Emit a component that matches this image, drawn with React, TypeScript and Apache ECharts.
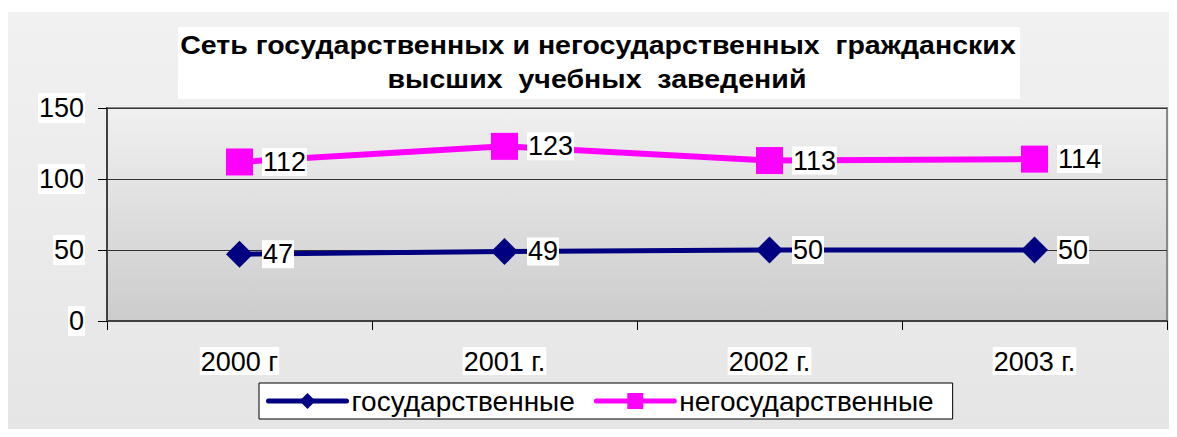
import React, { useEffect, useRef } from "react";
import * as echarts from "echarts";

const categories = ["2000 г", "2001 г.", "2002 г.", "2003 г."];
const stateValues = [47, 49, 50, 50];
const nonStateValues = [112, 123, 113, 114];
const yTicks = { min: 0, max: 150, interval: 50 };
const seriesNames = ["государственные", "негосударственные"];
const titleLines = [
  "Сеть государственных и негосударственных  гражданских",
  "высших  учебных  заведений",
];

const FONT = "Arial, 'Liberation Sans', sans-serif";

function measure(text: string, font: string): number {
  const c = document.createElement("canvas");
  const ctx = c.getContext("2d");
  if (!ctx) return 0;
  ctx.font = font;
  return ctx.measureText(text).width;
}

export default function App() {
  const ref = useRef<HTMLDivElement>(null);
  useEffect(() => {
    if (!ref.current) return;
    const chart = echarts.init(ref.current, null, { renderer: "svg" });
    const titleFont = "bold 25px Arial, 'Liberation Sans', sans-serif";
    const w1 = measure(titleLines[0], titleFont) || 730;
    const sx = 836 / w1;
    const labelCommon = {
      show: true,
      position: "right" as const,
      distance: 9,
      color: "#000",
      fontSize: 27,
      fontFamily: FONT,
      backgroundColor: "#fff",
      padding: [1, 1, 0, 1],
    };
    chart.setOption({
      animation: false,
      backgroundColor: "#fff",
      graphic: [
        {
          type: "rect",
          z: -10,
          shape: { x: 7, y: 12, width: 1170, height: 425 },
          style: {
            fill: new echarts.graphic.LinearGradient(0, 0, 0, 1, [
              { offset: 0, color: "#f1f1f1" },
              { offset: 1, color: "#e5e5e5" },
            ]),
          },
          silent: true,
        },
        {
          type: "rect",
          z: -5,
          shape: { x: 178, y: 27, width: 842, height: 72 },
          style: { fill: "#fff" },
          silent: true,
        },
        {
          type: "text",
          x: 598,
          y: 46,
          scaleX: sx,
          style: {
            text: titleLines[0],
            font: titleFont,
            fill: "#000",
            align: "center",
            verticalAlign: "middle",
          },
        },
        {
          type: "text",
          x: 597,
          y: 80,
          scaleX: sx,
          style: {
            text: titleLines[1],
            font: titleFont,
            fill: "#000",
            align: "center",
            verticalAlign: "middle",
          },
        },
      ],
      grid: {
        left: 107,
        right: 10,
        top: 108,
        bottom: 116,
        show: true,
        borderColor: "#888",
        borderWidth: 2,
        backgroundColor: new echarts.graphic.LinearGradient(0, 0, 0, 1, [
          { offset: 0, color: "#f0f0f0" },
          { offset: 1, color: "#cccccc" },
        ]),
      },
      legend: {
        left: 259,
        top: 383,
        padding: [4, 19, 4, 7],
        itemGap: 19,
        itemWidth: 78,
        itemHeight: 20,
        backgroundColor: "#fff",
        borderColor: "#000",
        borderWidth: 1,
        lineStyle: { width: 5, cap: "round" },
        textStyle: { fontSize: 28, color: "#000", fontFamily: FONT },
        data: seriesNames,
      },
      xAxis: {
        type: "category",
        data: categories,
        boundaryGap: true,
        axisLine: { lineStyle: { color: "#404040", width: 2 } },
        axisTick: { show: true, length: 9, lineStyle: { color: "#000", width: 1 } },
        axisLabel: {
          margin: 26,
          fontSize: 27,
          color: "#000",
          fontFamily: FONT,
          backgroundColor: "#fff",
          padding: [1, 1, 0, 1],
        },
      },
      yAxis: {
        type: "value",
        min: yTicks.min,
        max: yTicks.max,
        interval: yTicks.interval,
        axisLine: { show: true, lineStyle: { color: "#404040", width: 2 } },
        axisTick: { show: true, length: 9, lineStyle: { color: "#000", width: 1 } },
        splitLine: { show: true, lineStyle: { color: "#333", width: 1 } },
        axisLabel: {
          margin: 22,
          fontSize: 27,
          color: "#000",
          fontFamily: FONT,
          backgroundColor: "#fff",
          padding: [2, 1, 1, 1],
        },
      },
      series: [
        {
          name: seriesNames[0],
          type: "line",
          data: stateValues,
          symbol: "diamond",
          symbolSize: [27, 27],
          itemStyle: { color: "#000080" },
          lineStyle: { color: "#000080", width: 5 },
          label: labelCommon,
          z: 3,
        },
        {
          name: seriesNames[1],
          type: "line",
          data: nonStateValues,
          symbol: "rect",
          symbolSize: [27, 27],
          itemStyle: { color: "#ff00ff" },
          lineStyle: { color: "#ff00ff", width: 6 },
          label: labelCommon,
          z: 3,
        },
      ],
    });
    return () => chart.dispose();
  }, []);
  return <div ref={ref} style={{ width: 1177, height: 437, margin: -8 }} />;
}
